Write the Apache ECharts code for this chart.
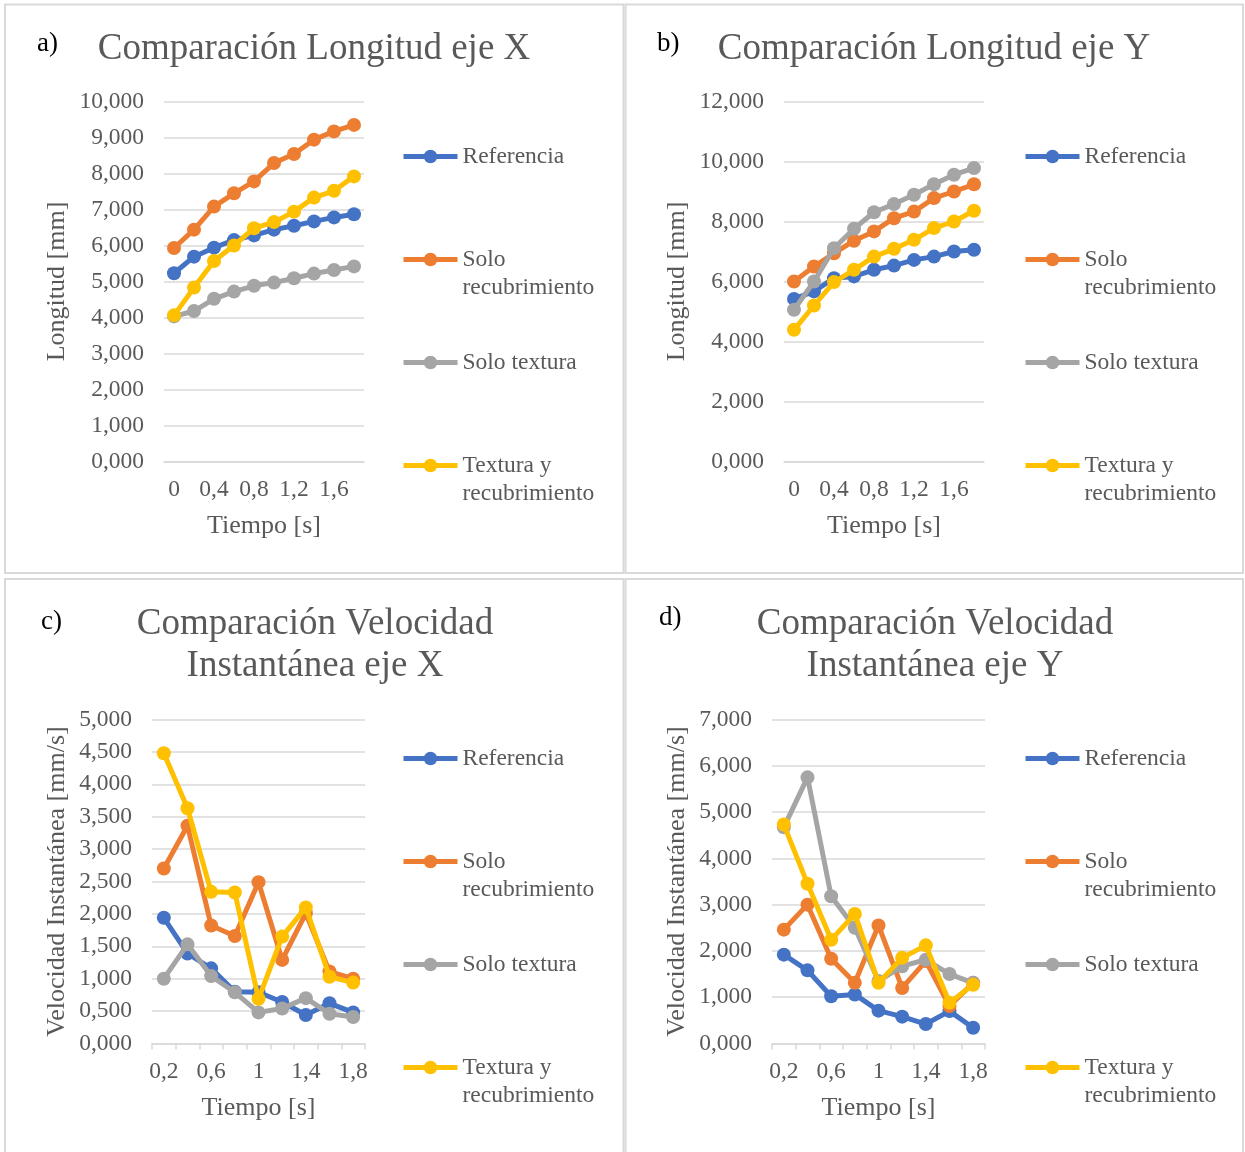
<!DOCTYPE html>
<html>
<head>
<meta charset="utf-8">
<style>
  html, body { margin: 0; padding: 0; background: #ffffff; }
  #chart { width: 1245px; height: 1152px; }
</style>
<script src="https://cdn.jsdelivr.net/npm/echarts@6/dist/echarts.min.js"></script>
</head>
<body>
<div id="chart"></div>
<script>
// Time categories (s)
const tiempoLongitud = ['0', '0,2', '0,4', '0,6', '0,8', '1', '1,2', '1,4', '1,6', '1,8'];
const tiempoVelocidad = ['0,2', '0,4', '0,6', '0,8', '1', '1,2', '1,4', '1,6', '1,8'];

const seriesNames = ['Referencia', 'Solo recubrimiento', 'Solo textura', 'Textura y recubrimiento'];
const seriesColors = ['#4472C4', '#ED7D31', '#A5A5A5', '#FFC000'];

// a) Longitud eje X
const longXReferencia = [5.23, 5.69, 5.94, 6.15, 6.28, 6.44, 6.55, 6.67, 6.78, 6.87];
const longXSoloRecubrimiento = [5.93, 6.44, 7.08, 7.45, 7.78, 8.29, 8.54, 8.94, 9.17, 9.35];
const longXSoloTextura = [4.03, 4.18, 4.52, 4.72, 4.88, 4.97, 5.09, 5.22, 5.32, 5.42];
const longXTexturaRecubrimiento = [4.06, 4.83, 5.57, 6.0, 6.48, 6.65, 6.94, 7.33, 7.52, 7.92];

// b) Longitud eje Y
const longYReferencia = [5.42, 5.67, 6.11, 6.17, 6.39, 6.53, 6.72, 6.83, 7.0, 7.06];
const longYSoloRecubrimiento = [6.0, 6.5, 6.94, 7.36, 7.67, 8.11, 8.33, 8.78, 9.0, 9.24];
const longYSoloTextura = [5.06, 6.0, 7.11, 7.76, 8.31, 8.58, 8.89, 9.24, 9.56, 9.78];
const longYTexturaRecubrimiento = [4.39, 5.2, 5.98, 6.39, 6.83, 7.09, 7.39, 7.78, 8.0, 8.36];

// c) Velocidad instantánea eje X
const velXReferencia = [1.94, 1.39, 1.16, 0.80, 0.79, 0.64, 0.44, 0.62, 0.48];
const velXSoloRecubrimiento = [2.70, 3.36, 1.82, 1.66, 2.49, 1.29, 2.01, 1.11, 1.0];
const velXSoloTextura = [1.0, 1.53, 1.04, 0.79, 0.48, 0.54, 0.70, 0.46, 0.41];
const velXTexturaRecubrimiento = [4.48, 3.63, 2.34, 2.33, 0.69, 1.65, 2.10, 1.03, 0.94];

// d) Velocidad instantánea eje Y
const velYReferencia = [1.92, 1.58, 1.02, 1.06, 0.71, 0.58, 0.42, 0.70, 0.34];
const velYSoloRecubrimiento = [2.46, 3.0, 1.83, 1.31, 2.55, 1.20, 1.78, 0.81, 1.31];
const velYSoloTextura = [4.67, 5.75, 3.18, 2.50, 1.35, 1.67, 1.81, 1.50, 1.31];
const velYTexturaRecubrimiento = [4.73, 3.45, 2.24, 2.80, 1.31, 1.85, 2.12, 0.88, 1.27];

const FONT = "'Liberation Serif', 'Times New Roman', serif";
const TEXT_GRAY = '#595959';
const GRID_GRAY = '#d9d9d9';
const LINE_WIDTH = 5;

const panels = [
  {
    letter: 'a)', letterPos: [37, 29],
    title: 'Comparación Longitud eje X', titleX: 314, titleTop: 28,
    grid: { left: 164, top: 101.5, width: 200, height: 360 },
    cats: tiempoLongitud, ticks: false,
    yMax: 10, yStep: 1, yName: 'Longitud [mm]', yGap: 94,
    legendLeft: 401, legendTop: 142.5,
    data: [longXReferencia, longXSoloRecubrimiento, longXSoloTextura, longXTexturaRecubrimiento]
  },
  {
    letter: 'b)', letterPos: [657, 29],
    title: 'Comparación Longitud eje Y', titleX: 934, titleTop: 28,
    grid: { left: 784, top: 101.5, width: 200, height: 360 },
    cats: tiempoLongitud, ticks: false,
    yMax: 12, yStep: 2, yName: 'Longitud [mm]', yGap: 94,
    legendLeft: 1023, legendTop: 142.5,
    data: [longYReferencia, longYSoloRecubrimiento, longYSoloTextura, longYTexturaRecubrimiento]
  },
  {
    letter: 'c)', letterPos: [41, 607],
    title: 'Comparación Velocidad\nInstantánea eje X', titleX: 315, titleTop: 603,
    grid: { left: 152, top: 719.5, width: 213, height: 324 },
    cats: tiempoVelocidad, ticks: true,
    yMax: 5, yStep: 0.5, yName: 'Velocidad Instantánea [mm/s]', yGap: 82,
    legendLeft: 401, legendTop: 744.5,
    data: [velXReferencia, velXSoloRecubrimiento, velXSoloTextura, velXTexturaRecubrimiento]
  },
  {
    letter: 'd)', letterPos: [659, 603],
    title: 'Comparación Velocidad\nInstantánea eje Y', titleX: 935, titleTop: 603,
    grid: { left: 772, top: 719.5, width: 213, height: 324 },
    cats: tiempoVelocidad, ticks: true,
    yMax: 7, yStep: 1, yName: 'Velocidad Instantánea [mm/s]', yGap: 82,
    legendLeft: 1023, legendTop: 744.5,
    data: [velYReferencia, velYSoloRecubrimiento, velYSoloTextura, velYTexturaRecubrimiento]
  }
];

const fmt = v => v.toFixed(3).replace('.', ',');

const option = {
  backgroundColor: '#ffffff',
  animation: false,
  title: [],
  grid: [],
  xAxis: [],
  yAxis: [],
  legend: [],
  series: [],
  graphic: [
    // panel frames
    { type: 'rect', shape: { x: 5, y: 4.5, width: 618.5, height: 568.5 }, style: { fill: 'none', stroke: GRID_GRAY, lineWidth: 2 }, silent: true },
    { type: 'rect', shape: { x: 625.5, y: 4.5, width: 617.5, height: 568.5 }, style: { fill: 'none', stroke: GRID_GRAY, lineWidth: 2 }, silent: true },
    { type: 'rect', shape: { x: 5, y: 579, width: 618.5, height: 600 }, style: { fill: 'none', stroke: GRID_GRAY, lineWidth: 2 }, silent: true },
    { type: 'rect', shape: { x: 625.5, y: 579, width: 617.5, height: 600 }, style: { fill: 'none', stroke: GRID_GRAY, lineWidth: 2 }, silent: true }
  ]
};

panels.forEach((p, i) => {
  option.title.push({
    text: p.title, left: p.titleX, top: p.titleTop, textAlign: 'center', padding: 0,
    textStyle: { fontFamily: FONT, fontSize: 37, fontWeight: 'normal', color: TEXT_GRAY, lineHeight: 42 }
  });
  option.title.push({
    text: p.letter, left: p.letterPos[0], top: p.letterPos[1], padding: 0,
    textStyle: { fontFamily: FONT, fontSize: 27, fontWeight: 'normal', color: '#000000', lineHeight: 30 }
  });

  option.grid.push({ left: p.grid.left, top: p.grid.top, width: p.grid.width, height: p.grid.height, containLabel: false });

  option.xAxis.push({
    type: 'category', gridIndex: i, data: p.cats, boundaryGap: true,
    name: 'Tiempo [s]', nameLocation: 'middle', nameGap: 52,
    nameTextStyle: { fontFamily: FONT, fontSize: 26, color: TEXT_GRAY },
    axisLine: { show: true, lineStyle: { color: GRID_GRAY, width: 1.5 } },
    axisTick: { show: p.ticks, interval: 0, length: 6, lineStyle: { color: GRID_GRAY, width: 1.5 } },
    axisLabel: { interval: 1, margin: 16, fontFamily: FONT, fontSize: 23.5, color: TEXT_GRAY }
  });

  option.yAxis.push({
    type: 'value', gridIndex: i, min: 0, max: p.yMax, interval: p.yStep,
    name: p.yName, nameLocation: 'middle', nameGap: p.yGap,
    nameTextStyle: { fontFamily: FONT, fontSize: 26, color: TEXT_GRAY },
    axisLine: { show: false }, axisTick: { show: false },
    splitLine: { show: true, lineStyle: { color: GRID_GRAY, width: 1.5 } },
    axisLabel: { margin: 20, fontFamily: FONT, fontSize: 23.5, color: TEXT_GRAY, formatter: fmt }
  });

  option.legend.push({
    orient: 'vertical', left: p.legendLeft, top: p.legendTop, padding: 0,
    itemWidth: 54, itemHeight: 17, itemGap: 47,
    data: seriesNames,
    selectedMode: false,
    lineStyle: { width: LINE_WIDTH },
    formatter: name => name === 'Solo recubrimiento' ? ' \nSolo\nrecubrimiento'
      : name === 'Textura y recubrimiento' ? ' \nTextura y\nrecubrimiento' : name,
    textStyle: { fontFamily: FONT, fontSize: 23.5, color: TEXT_GRAY, lineHeight: 28 }
  });

  seriesNames.forEach((name, k) => {
    option.series.push({
      type: 'line', name: name, xAxisIndex: i, yAxisIndex: i,
      data: p.data[k],
      symbol: 'circle', symbolSize: 14, showSymbol: true, showAllSymbol: true,
      color: seriesColors[k],
      itemStyle: { color: seriesColors[k] },
      lineStyle: { color: seriesColors[k], width: LINE_WIDTH },
      z: 2 + k
    });
  });
});

const chart = echarts.init(document.getElementById('chart'), null, { renderer: 'canvas' });
chart.setOption(option);
</script>
</body>
</html>
